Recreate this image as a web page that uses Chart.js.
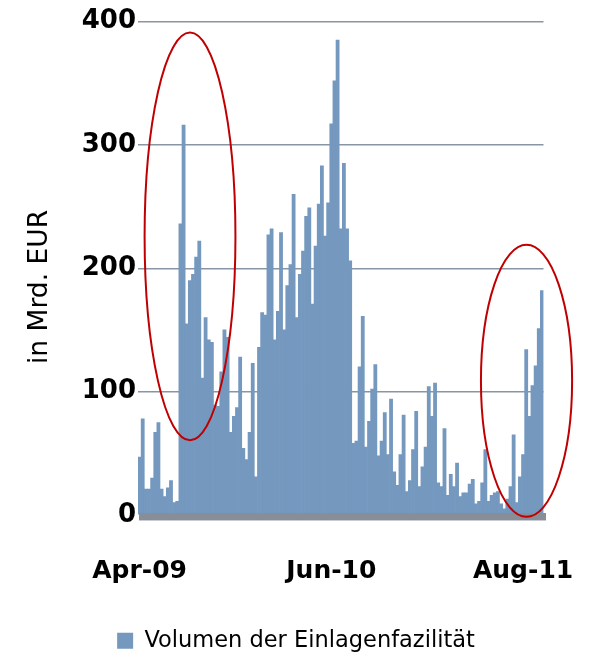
<!DOCTYPE html>
<html>
<head>
<meta charset="utf-8">
<script src="https://cdn.jsdelivr.net/npm/chart.js@4/dist/chart.umd.min.js"></script>
<style>
  html, body { margin: 0; padding: 0; background: #fff; }
  canvas { display: block; }
</style>
</head>
<body>
<canvas id="chart" width="592" height="657"></canvas>
<script>
// Weekly volume of the ECB deposit facility, bn EUR
const volume = [
  47, 78, 21, 21, 30, 67, 75, 21, 15, 22, 28, 10, 11, 236, 316, 155, 190, 195, 209, 222,
  111, 160, 142, 140, 89, 88, 116, 150, 144, 67, 80, 87, 128, 54, 45, 67, 123, 31, 136, 164,
  162, 227, 232, 142, 165, 229, 150, 186, 203, 260, 160, 195, 214, 242, 249, 171, 218, 252, 283, 226,
  253, 317, 352, 385, 232, 285, 232, 206, 58, 60, 120, 161, 55, 76, 102, 122, 48, 60, 83, 49,
  94, 35, 24, 49, 81, 19, 28, 53, 84, 23, 39, 55, 104, 80, 107, 26, 23, 70, 16, 33,
  23, 42, 15, 18, 18, 25, 29, 9, 11, 26, 53, 11, 16, 18, 19, 9, 5, 13, 23, 65,
  10, 31, 49, 134, 80, 105, 121, 151, 182
];

// Axis labels and the weeks they sit on
const tickLabels = ['Apr-09', 'Jun-10', 'Aug-11'];
const tickWeeks = [0, 61, 122];
const yTicks = [0, 100, 200, 300, 400];

// Highlighted periods: week range and value range
const highlightWeeks = [[1.6, 30.5], [108.6, 137.6]];
const highlightValues = [[60.5, 391], [-1.5, 219]];

const seriesName = 'Volumen der Einlagenfazilität';
const axisTitle = 'in Mrd. EUR';

const categories = volume.map((_, i) => {
  const k = tickWeeks.indexOf(i);
  return k >= 0 ? tickLabels[k] : '';
});

const FONT = "'DejaVu Sans', sans-serif";
const BAR_COLOR = '#7598bf';

const decor = {
  id: 'decor',
  afterDatasetsDraw(chart) {
    const { ctx, chartArea, scales: { y } } = chart;
    const y0 = y.getPixelForValue(0);
    ctx.save();
    ctx.fillStyle = '#878e97';
    ctx.fillRect(chartArea.left + 1, y0 - 2, chartArea.right - chartArea.left + 1.5, 7);
    ctx.fillStyle = '#c9cdd3';
    ctx.fillRect(chartArea.left + 1, y0 + 5, chartArea.right - chartArea.left + 1.5, 1);
    ctx.restore();
  },
  afterDraw(chart) {
    const { ctx, scales: { x, y } } = chart;
    ctx.save();
    ctx.strokeStyle = '#c00000';
    ctx.lineWidth = 2;
    highlightWeeks.forEach((wk, i) => {
      const x1 = x.getPixelForValue(wk[0]);
      const x2 = x.getPixelForValue(wk[1]);
      const yLo = y.getPixelForValue(highlightValues[i][0]);
      const yHi = y.getPixelForValue(highlightValues[i][1]);
      ctx.beginPath();
      ctx.ellipse((x1 + x2) / 2, (yLo + yHi) / 2, Math.abs(x2 - x1) / 2, Math.abs(yLo - yHi) / 2, 0, 0, Math.PI * 2);
      ctx.stroke();
    });
    ctx.restore();

    // rotated value-axis title
    ctx.save();
    ctx.translate(40, 287);
    ctx.rotate(-Math.PI / 2);
    ctx.font = "26.5px " + FONT;
    ctx.fillStyle = '#000';
    ctx.textAlign = 'center';
    ctx.textBaseline = 'middle';
    ctx.fillText(axisTitle, 0, 0);
    ctx.restore();
  }
};

new Chart(document.getElementById('chart'), {
  type: 'bar',
  data: {
    labels: categories,
    datasets: [{
      label: seriesName,
      data: volume,
      backgroundColor: BAR_COLOR,
      borderWidth: 0,
      barPercentage: 1,
      categoryPercentage: 1
    }]
  },
  options: {
    responsive: false,
    animation: false,
    devicePixelRatio: 1,
    layout: { padding: { left: 0, right: 0, top: 21.5, bottom: -5 } },
    plugins: {
      tooltip: { enabled: false },
      legend: {
        position: 'bottom',
        labels: {
          boxWidth: 16,
          boxHeight: 16,
          padding: 4,
          color: '#000',
          font: { family: FONT, size: 22.5 }
        }
      }
    },
    scales: {
      x: {
        grid: { display: false, drawTicks: false },
        border: { display: false },
        ticks: {
          autoSkip: false,
          maxRotation: 0,
          minRotation: 0,
          padding: 41,
          color: '#000',
          font: { family: FONT, size: 25, weight: 'bold' }
        },
        afterFit(scale) { scale.height = 110.5; }
      },
      y: {
        min: 0,
        max: 400,
        afterBuildTicks(scale) { scale.ticks = yTicks.map(v => ({ value: v })); },
        grid: {
          drawTicks: false,
          lineWidth: 1.5,
          color: ctx => (ctx.tick && ctx.tick.value === 0 ? 'rgba(0,0,0,0)' : '#8795a4')
        },
        border: { display: false },
        ticks: {
          padding: 2,
          color: '#000',
          font: { family: FONT, size: 26, weight: 'bold' }
        },
        afterFit(scale) { scale.width = 138; }
      },
      // empty right-hand margin so the legend stays centred on the page
      margin: {
        type: 'linear',
        position: 'right',
        min: 0,
        max: 400,
        grid: { display: false, drawTicks: false },
        border: { display: false },
        ticks: { display: false },
        afterFit(scale) { scale.width = 48.5; }
      }
    }
  },
  plugins: [decor]
});
</script>
</body>
</html>
